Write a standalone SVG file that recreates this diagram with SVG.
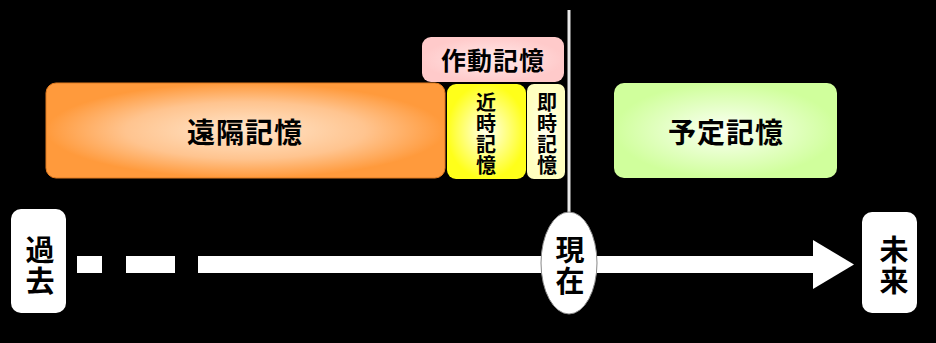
<svg xmlns="http://www.w3.org/2000/svg" width="936" height="343" viewBox="0 0 936 343">
<style>
.t{font-family:"Noto Sans CJK JP","Noto Sans CJK SC",sans-serif;font-weight:bold;fill:#000;text-anchor:middle}
.v{writing-mode:vertical-rl;text-orientation:upright}
.w{fill:#fff}
</style>
<defs>
<radialGradient id="gOrange" cx="0.5" cy="0.5" r="0.5">
<stop offset="0" stop-color="#FFE6CC"/>
<stop offset="0.6" stop-color="#FFC48F"/>
<stop offset="1" stop-color="#FF9A3C"/>
</radialGradient>
<radialGradient id="gYellow" cx="0.5" cy="0.5" r="0.5">
<stop offset="0" stop-color="#FFFFF0"/>
<stop offset="1" stop-color="#FFFF1A"/>
</radialGradient>
<radialGradient id="gLightYellow" cx="0.5" cy="0.5" r="0.5">
<stop offset="0" stop-color="#FFFFF0"/>
<stop offset="1" stop-color="#FFFFC0"/>
</radialGradient>
<radialGradient id="gPink" cx="0.5" cy="0.5" r="0.5">
<stop offset="0" stop-color="#FFEAEA"/>
<stop offset="1" stop-color="#FFCACA"/>
</radialGradient>
<radialGradient id="gGreen" cx="0.5" cy="0.5" r="0.5">
<stop offset="0" stop-color="#FCFFF6"/>
<stop offset="1" stop-color="#D0FF9C"/>
</radialGradient>
</defs>
<rect width="936" height="343" fill="#000"/>

<g id="connectors">
<line x1="569" y1="10" x2="569" y2="214" stroke="#E8E8E8" stroke-width="3"/>
<rect class="w" x="77" y="256" width="25" height="17"/>
<rect class="w" x="126" y="256" width="49" height="17"/>
<rect class="w" x="198" y="256" width="616" height="17"/>
<polygon class="w" points="813,240 854,264.5 813,289"/>
</g>

<g id="remote-memory">
<rect x="46" y="83" width="399" height="95" rx="10" fill="url(#gOrange)" stroke="#E07A20" stroke-width="1"/>
<text class="t" x="245" y="142.6" font-size="28" letter-spacing="1">遠隔記憶</text>
</g>

<g id="working-memory">
<rect x="422" y="37" width="142" height="45" rx="9" fill="url(#gPink)"/>
<text class="t" x="493" y="69.5" font-size="25" letter-spacing="1">作動記憶</text>
</g>

<g id="recent-memory">
<rect x="447" y="84" width="79" height="95" rx="9" fill="url(#gYellow)"/>
<text class="t v" x="486" y="134" font-size="20" letter-spacing="1">近時記憶</text>
</g>

<g id="immediate-memory">
<rect x="527" y="84" width="38" height="95" rx="7" fill="url(#gLightYellow)"/>
<text class="t v" x="547" y="134" font-size="20" letter-spacing="1">即時記憶</text>
</g>

<g id="prospective-memory">
<rect x="614" y="83" width="223" height="95" rx="10" fill="url(#gGreen)"/>
<text class="t" x="726" y="142.6" font-size="28" letter-spacing="1">予定記憶</text>
</g>

<g id="past">
<rect class="w" x="11" y="209" width="55" height="104" rx="10"/>
<text class="t v" x="40" y="266" font-size="29" letter-spacing="2">過去</text>
</g>

<g id="present">
<ellipse class="w" cx="569" cy="263" rx="28" ry="51" stroke="#888" stroke-width="1"/>
<text class="t v" x="570" y="266" font-size="29" letter-spacing="2">現在</text>
</g>

<g id="future">
<rect class="w" x="862" y="212" width="55" height="101" rx="10"/>
<text class="t v" x="894" y="266" font-size="29" letter-spacing="2">未来</text>
</g>
</svg>
